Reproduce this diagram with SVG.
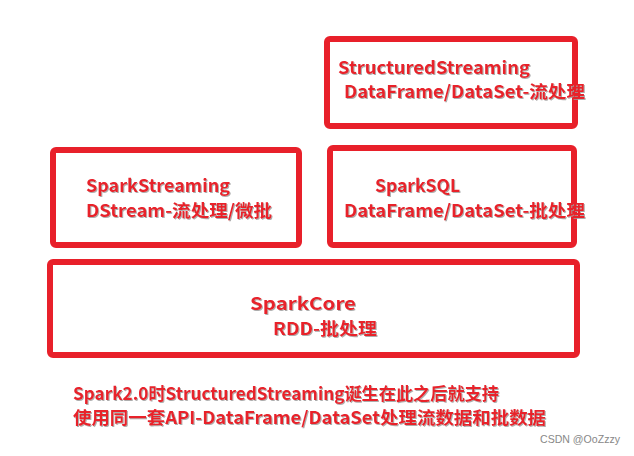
<svg xmlns="http://www.w3.org/2000/svg" width="634" height="456" viewBox="0 0 634 456">
<defs>
<filter id="sh" x="-5%" y="-20%" width="110%" height="140%">
<feDropShadow dx="1" dy="1" stdDeviation="0.6" flood-color="#999" flood-opacity="0.8"/>
</filter>
</defs>
<style>
.box{fill:#fff;stroke:#e8202a;stroke-width:6}
.t{font-family:"Noto Sans CJK SC","Noto Sans",sans-serif;font-weight:bold;font-size:17.5px;fill:#e8202a;filter:url(#sh)}
.wm{font-family:"Liberation Sans",sans-serif;font-size:11px;fill:#888}
</style>
<rect width="634" height="456" fill="#fff"/>
<g id="structured-streaming">
<rect class="box" x="327" y="39" width="248" height="87" rx="3"/>
<text class="t" x="338" y="74" textLength="192" lengthAdjust="spacingAndGlyphs">StructuredStreaming</text>
<text class="t" x="344" y="98" textLength="241" lengthAdjust="spacingAndGlyphs">DataFrame/DataSet-流处理</text>
</g>
<g id="spark-streaming">
<rect class="box" x="53" y="150" width="246" height="95" rx="3"/>
<text class="t" x="86" y="192" textLength="144" lengthAdjust="spacingAndGlyphs">SparkStreaming</text>
<text class="t" x="86" y="217" textLength="186" lengthAdjust="spacingAndGlyphs">DStream-流处理/微批</text>
</g>
<g id="spark-sql">
<rect class="box" x="330" y="148" width="244" height="97" rx="3"/>
<text class="t" x="375" y="192" textLength="85" lengthAdjust="spacingAndGlyphs">SparkSQL</text>
<text class="t" x="344" y="217" textLength="241" lengthAdjust="spacingAndGlyphs">DataFrame/DataSet-批处理</text>
</g>
<g id="spark-core">
<rect class="box" x="50" y="262" width="527" height="93" rx="3"/>
<text class="t" x="250" y="310" textLength="106" lengthAdjust="spacingAndGlyphs">SparkCore</text>
<text class="t" x="273" y="335" textLength="104" lengthAdjust="spacingAndGlyphs">RDD-批处理</text>
</g>
<g id="connectors"></g>
<g id="note">
<text class="t" x="73" y="400" textLength="426" lengthAdjust="spacingAndGlyphs">Spark2.0时StructuredStreaming诞生在此之后就支持</text>
<text class="t" x="73" y="424" textLength="473" lengthAdjust="spacingAndGlyphs">使用同一套API-DataFrame/DataSet处理流数据和批数据</text>
</g>
<text class="wm" x="540" y="443" textLength="80" lengthAdjust="spacingAndGlyphs">CSDN @OoZzzy</text>
</svg>
